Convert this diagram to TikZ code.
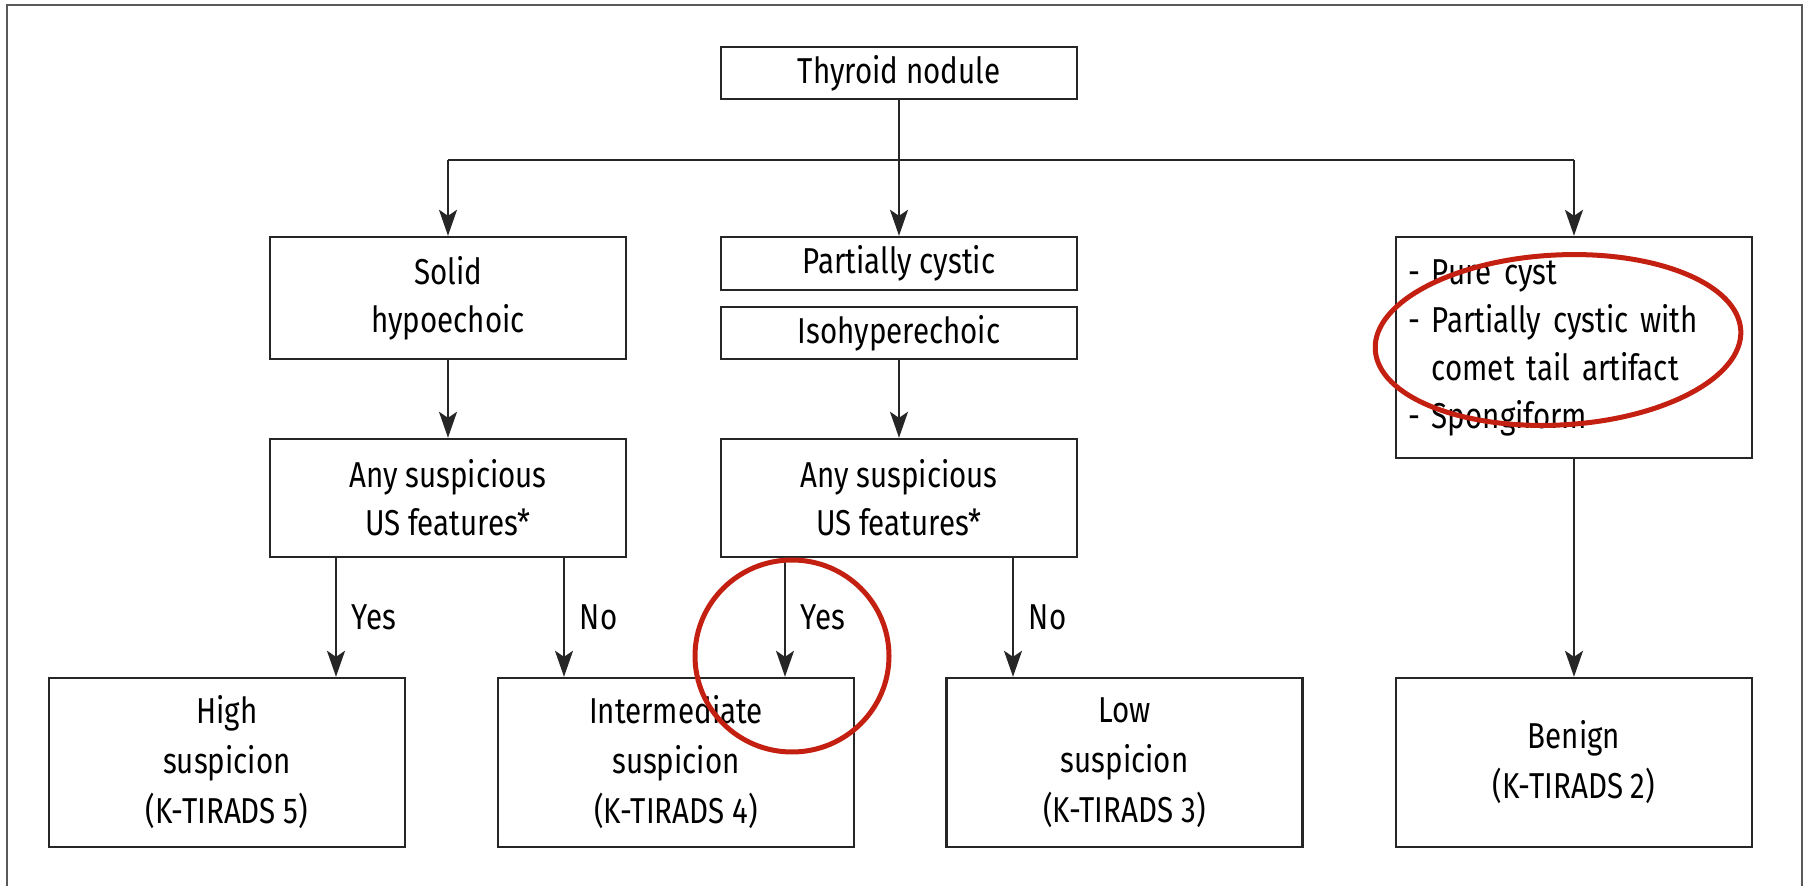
\documentclass[tikz,border=0pt]{standalone}
\usepackage{fontspec}
\setmainfont[FakeStretch=0.82]{Fira Sans}
\usetikzlibrary{arrows.meta}
\begin{document}
\begin{tikzpicture}[x=.5pt, y=-.5pt,
	box/.style={draw=black!85, line width=1.2pt, minimum width=178pt, inner sep=0pt, align=center, font=\fontsize{18}{24}\selectfont},
	conn/.style={draw=black!85, line width=.9pt},
	arr/.style={conn, -{Stealth[length=13pt, width=9pt, inset=3pt]}},
	lbl/.style={anchor=west, inner sep=0pt, xshift=7.5pt, font=\fontsize{18}{24}\selectfont},
	ring/.style={draw={rgb,255:red,196;green,32;blue,18}, line width=2.5pt}]

\useasboundingbox (0,0) rectangle (1806,886);
\draw[black!65, line width=1pt] (7,886) -- (7,5) -- (1802,5) -- (1802,886);

% first row
\node[box, minimum height=26pt] (thyroid) at (899,73) {Thyroid nodule};

% second row
\node[box, minimum height=61pt] (solid) at (448,298) {Solid\\hypoechoic};
\node[box, minimum height=26.5pt] (partial) at (899,263.5) {Partially cystic};
\node[box, minimum height=26pt] (iso) at (899,333) {Isohyperechoic};
\node[box, minimum height=110.5pt, align=left, text width=166pt, inner xsep=6pt] (benlist) at (1574,347.5)
	{- Pure cyst\\- Partially cystic with\\\hphantom{- }comet tail artifact\\- Spongiform};

% third row
\node[box, minimum height=59pt] (anyL) at (448,498) {Any suspicious\\US features*};
\node[box, minimum height=59pt] (anyM) at (899,498) {Any suspicious\\US features*};

% last row
\node[box, minimum height=84.5pt, font=\fontsize{18}{25}\selectfont] (high) at (227,762.5) {High\\suspicion\\(K-TIRADS 5)};
\node[box, minimum height=84.5pt, font=\fontsize{18}{25}\selectfont] (inter) at (676,762.5) {Intermediate\\suspicion\\(K-TIRADS 4)};
\node[box, minimum height=84.5pt, font=\fontsize{18}{25}\selectfont] (low) at (1124.5,762.5) {Low\\suspicion\\(K-TIRADS 3)};
\node[box, minimum height=84.5pt, font=\fontsize{18}{25}\selectfont] (benign) at (1574,762.5) {Benign\\(K-TIRADS 2)};

% branching
\coordinate (split) at (899,160);
\draw[conn] (thyroid) -- (split);
\draw[conn] (split -| solid.north) -- (split -| benlist.north);
\draw[arr] (split -| solid.north) -- (solid);
\draw[arr] (split) -- (partial);
\draw[arr] (split -| benlist.north) -- (benlist);

\draw[arr] (solid) -- (anyL);
\draw[arr] (iso) -- (anyM);
\draw[arr] (benlist) -- (benign);

% yes / no
\coordinate (yesL) at ([xshift=-56pt]anyL.south);
\coordinate (noL) at ([xshift=58pt]anyL.south);
\coordinate (yesM) at ([xshift=-57pt]anyM.south);
\coordinate (noM) at ([xshift=57pt]anyM.south);
\draw[arr] (yesL) -- (yesL |- high.north) node[lbl, midway] {Yes};
\draw[arr] (noL) -- (noL |- inter.north) node[lbl, midway] {No};
\draw[arr] (yesM) -- (yesM |- inter.north) node[lbl, midway] {Yes};
\draw[arr] (noM) -- (noM |- low.north) node[lbl, midway] {No};

% red marks
\draw[ring, rotate around={3:(1558,340)}] (1558,340) ellipse [x radius=91.5pt, y radius=42.5pt];
\draw[ring] (792,656) ellipse [x radius=48.5pt, y radius=48pt];
\end{tikzpicture}
\end{document}
